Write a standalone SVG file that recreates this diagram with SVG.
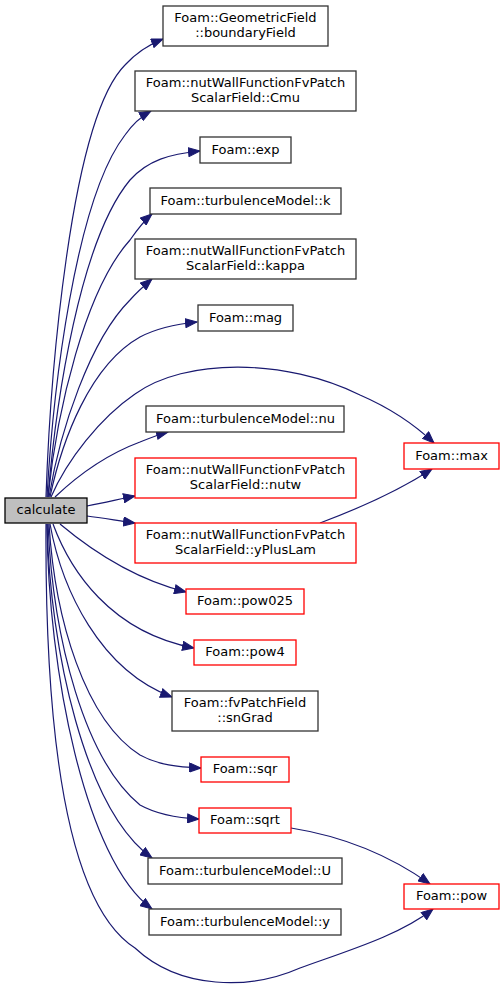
<svg xmlns="http://www.w3.org/2000/svg" width="504" height="987" viewBox="0 0 504 987">
<style>
.n rect{fill:#ffffff;stroke:#333333;stroke-width:1.3}
.r rect{fill:#ffffff;stroke:#ff0000;stroke-width:1.3}
.c rect{fill:#bfbfbf;stroke:#000000;stroke-width:1.3}
text{font-family:"DejaVu Sans",sans-serif;font-size:13px;fill:#000000;text-anchor:middle}
#edges path{fill:none;stroke:#191970;stroke-width:1.2;marker-end:url(#ah)}
</style>
<defs>
<marker id="ah" markerUnits="userSpaceOnUse" markerWidth="13" markerHeight="10" refX="12" refY="5" orient="auto" viewBox="0 0 13 10">
<path d="M0.5,0.5 L12,5 L0.5,9.5 z" fill="#191970" stroke="#191970" stroke-width="1"/>
</marker>
</defs>
<rect width="504" height="987" fill="#ffffff"/>
<g id="edges">
<path d="M46,497 C50,380 70,120 125,65 C135,54 148,45 163,39"/>
<path d="M47,497 C53,390 75,200 125,135 C132,125 142,116 151,111"/>
<path d="M48,497 C56,400 80,240 130,180 C148,160 170,154 200,151"/>
<path d="M48,497 C57,410 85,290 130,240 C137,230 145,220 152,214"/>
<path d="M49,497 C60,430 90,340 130,300 C137,292 145,285 152,279"/>
<path d="M50,497 C62,440 90,365 140,337 C157,328 177,324 197,322"/>
<path d="M51,497 C67,460 100,418 135,394 C185,358 285,358 360,395 C390,408 415,425 434,443"/>
<path d="M55,497 C75,478 105,455 140,442 C150,438 160,434 168,432"/>
<path d="M87,506 C103,503 120,499 135,496"/>
<path d="M87,516 C103,518 120,521 135,523"/>
<path d="M60,524 C85,545 130,578 186,592"/>
<path d="M53,524 C70,570 110,632 194,648"/>
<path d="M50,524 C62,590 100,670 172,697"/>
<path d="M49,524 C55,620 85,720 140,755 C158,765 178,767 201,768"/>
<path d="M48,524 C53,640 85,760 140,805 C158,815 178,818 199,819"/>
<path d="M47,524 C50,650 85,810 152,858"/>
<path d="M47,524 C48,670 85,860 152,909"/>
<path d="M46,524 C45,700 60,900 135,948 C180,990 250,990 300,968 C350,950 400,935 433,909"/>
<path d="M291,828 C335,835 385,852 430,884"/>
<path d="M320,523 C360,508 400,490 432,469"/>
</g>
<g id="calculate" class="c"><rect x="5" y="498" width="82" height="25"/><text x="46" y="514">calculate</text></g>
<g id="boundaryField" class="n"><rect x="163" y="6" width="165" height="40"/><text x="245.5" y="22">Foam::GeometricField</text><text x="245.5" y="37">::boundaryField</text></g>
<g id="Cmu" class="n"><rect x="135" y="71" width="221" height="40"/><text x="245.5" y="87">Foam::nutWallFunctionFvPatch</text><text x="245.5" y="102">ScalarField::Cmu</text></g>
<g id="exp" class="n"><rect x="200" y="137" width="91" height="26"/><text x="245.5" y="154">Foam::exp</text></g>
<g id="k" class="n"><rect x="150" y="188" width="191" height="26"/><text x="245.5" y="205">Foam::turbulenceModel::k</text></g>
<g id="kappa" class="n"><rect x="135" y="239" width="221" height="40"/><text x="245.5" y="255">Foam::nutWallFunctionFvPatch</text><text x="245.5" y="270">ScalarField::kappa</text></g>
<g id="mag" class="n"><rect x="198" y="305" width="95" height="26"/><text x="245.5" y="322">Foam::mag</text></g>
<g id="nu" class="n"><rect x="146" y="406" width="198" height="26"/><text x="245.5" y="423">Foam::turbulenceModel::nu</text></g>
<g id="max" class="r"><rect x="404" y="443" width="95" height="26"/><text x="451.5" y="460">Foam::max</text></g>
<g id="nutw" class="r"><rect x="135" y="458" width="221" height="40"/><text x="245.5" y="474">Foam::nutWallFunctionFvPatch</text><text x="245.5" y="489">ScalarField::nutw</text></g>
<g id="yPlusLam" class="r"><rect x="135" y="523" width="221" height="40"/><text x="245.5" y="539">Foam::nutWallFunctionFvPatch</text><text x="245.5" y="554">ScalarField::yPlusLam</text></g>
<g id="pow025" class="r"><rect x="186" y="589" width="118" height="25"/><text x="245" y="605">Foam::pow025</text></g>
<g id="pow4" class="r"><rect x="194" y="640" width="102" height="25"/><text x="245" y="656">Foam::pow4</text></g>
<g id="snGrad" class="n"><rect x="172" y="691" width="146" height="40"/><text x="245" y="707">Foam::fvPatchField</text><text x="245" y="722">::snGrad</text></g>
<g id="sqr" class="r"><rect x="201" y="757" width="88" height="25"/><text x="245" y="773">Foam::sqr</text></g>
<g id="sqrt" class="r"><rect x="199" y="808" width="92" height="25"/><text x="245" y="824">Foam::sqrt</text></g>
<g id="U" class="n"><rect x="148" y="858" width="194" height="26"/><text x="245" y="875">Foam::turbulenceModel::U</text></g>
<g id="pow" class="r"><rect x="404" y="884" width="95" height="25"/><text x="451.5" y="900">Foam::pow</text></g>
<g id="y" class="n"><rect x="149" y="909" width="192" height="26"/><text x="245" y="926">Foam::turbulenceModel::y</text></g>
</svg>
